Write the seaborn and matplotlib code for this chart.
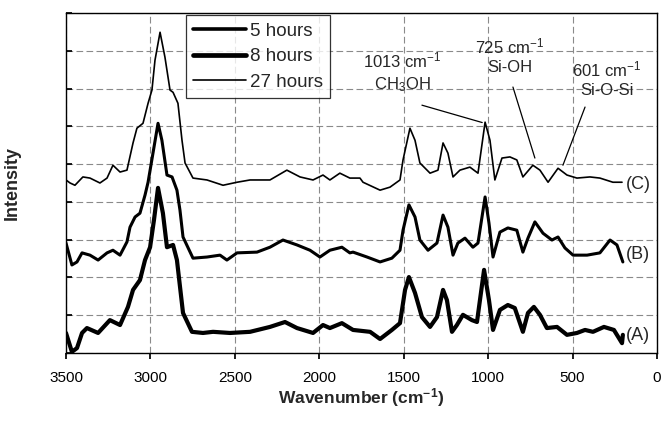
import matplotlib
matplotlib.use("Agg")
import matplotlib.pyplot as plt
import seaborn as sns
import pandas as pd

# Raman spectra of the gel at three ageing times (offset traces, arbitrary units)
wn_c = [3500, 3476, 3447, 3400, 3358, 3299, 3257, 3222, 3180, 3139, 3103, 3080, 3044, 3014,
        2991, 2973, 2943, 2914, 2884, 2866, 2837, 2813, 2795, 2748, 2665, 2570, 2487, 2410,
        2292, 2192, 2114, 2037, 1978, 1937, 1878, 1819, 1759, 1741, 1640, 1581, 1522, 1504,
        1463, 1433, 1404, 1344, 1297, 1267, 1238, 1208, 1167, 1108, 1060, 1018, 989, 960,
        918, 871, 830, 794, 735, 693, 645, 586, 533, 474, 397, 338, 261, 207]
int_c = [4.58, 4.50, 4.44, 4.66, 4.63, 4.50, 4.63, 4.97, 4.79, 4.84, 5.56, 5.95, 6.08, 6.61,
         6.96, 7.75, 8.49, 7.83, 6.96, 6.90, 6.61, 5.63, 5.03, 4.63, 4.58, 4.44, 4.52, 4.58,
         4.58, 4.84, 4.66, 4.58, 4.71, 4.58, 4.76, 4.63, 4.63, 4.52, 4.31, 4.39, 4.58, 5.11,
         5.95, 5.63, 5.03, 4.76, 4.84, 5.56, 5.29, 4.66, 4.84, 4.92, 4.76, 6.11, 5.63, 4.58,
         5.16, 5.19, 5.11, 4.66, 4.97, 4.84, 4.52, 4.89, 4.71, 4.63, 4.66, 4.63, 4.52, 4.52]

wn_b = [3500, 3465, 3435, 3405, 3358, 3310, 3257, 3222, 3180, 3139, 3121, 3091, 3062, 3032,
        3014, 2955, 2932, 2902, 2872, 2843, 2825, 2807, 2748, 2665, 2588, 2547, 2487, 2369,
        2292, 2215, 2132, 2055, 1996, 1937, 1866, 1819, 1800, 1717, 1640, 1570, 1522, 1504,
        1469, 1433, 1404, 1356, 1303, 1267, 1238, 1208, 1179, 1137, 1090, 1060, 1018, 995,
        971, 930, 883, 830, 794, 764, 723, 675, 622, 586, 545, 497, 414, 338, 278, 237, 202]
int_b = [2.91, 2.33, 2.41, 2.65, 2.59, 2.46, 2.65, 2.72, 2.59, 2.94, 3.33, 3.60, 3.70, 4.18,
         4.52, 6.08, 5.63, 4.71, 4.66, 4.31, 3.78, 3.07, 2.51, 2.54, 2.59, 2.46, 2.65, 2.67,
         2.80, 2.99, 2.86, 2.72, 2.54, 2.72, 2.80, 2.65, 2.67, 2.54, 2.41, 2.51, 2.72, 3.25,
         3.92, 3.60, 2.99, 2.72, 2.91, 3.65, 3.33, 2.59, 2.91, 3.04, 2.80, 2.91, 4.13, 3.44,
         2.54, 3.20, 3.31, 3.25, 2.67, 3.04, 3.47, 3.17, 2.99, 3.07, 2.78, 2.59, 2.59, 2.65,
         2.99, 2.86, 2.41]

wn_a = [3500, 3465, 3435, 3405, 3376, 3310, 3240, 3180, 3133, 3103, 3062, 3032, 3002, 2979,
        2955, 2926, 2902, 2866, 2843, 2807, 2754, 2689, 2629, 2529, 2410, 2292, 2203, 2132,
        2037, 1978, 1937, 1866, 1800, 1699, 1640, 1570, 1522, 1492, 1469, 1433, 1392, 1344,
        1303, 1267, 1244, 1214, 1185, 1149, 1096, 1066, 1024, 995, 971, 930, 883, 842, 794,
        764, 729, 693, 652, 592, 533, 474, 426, 379, 314, 255, 207, 202]
int_a = [0.53, 0.03, 0.13, 0.53, 0.66, 0.53, 0.87, 0.74, 1.22, 1.67, 1.93, 2.46, 2.80, 3.52,
         4.37, 3.70, 2.80, 2.86, 2.46, 1.06, 0.56, 0.53, 0.56, 0.53, 0.56, 0.69, 0.82, 0.66,
         0.53, 0.74, 0.66, 0.79, 0.61, 0.56, 0.37, 0.61, 0.79, 1.67, 2.01, 1.59, 0.95, 0.69,
         0.95, 1.67, 1.40, 0.56, 0.74, 1.01, 0.87, 0.82, 2.20, 1.40, 0.61, 1.14, 1.27, 1.19,
         0.56, 1.06, 1.22, 1.01, 0.66, 0.69, 0.48, 0.53, 0.61, 0.56, 0.69, 0.61, 0.26, 0.48]

sns.set_theme(style="ticks")
plt.rcParams["font.family"] = ["Liberation Sans", "DejaVu Sans"]
plt.rcParams["mathtext.default"] = "regular"

fig = plt.figure(figsize=(6.62, 4.26), dpi=100)
ax = fig.add_axes([0.0997, 0.1714, 0.8927, 0.7981])

traces = [
    ("5 hours", wn_b, int_b, 2.2),
    ("8 hours", wn_a, int_a, 3.0),
    ("27 hours", wn_c, int_c, 1.2),
]
for label, wn, inten, lw in traces:
    df = pd.DataFrame({"Wavenumber": wn, "Intensity": inten})
    sns.lineplot(data=df, x="Wavenumber", y="Intensity", ax=ax, color="black",
                 linewidth=lw, sort=False, estimator=None, label=label)

ax.set_xlim(3500, 0)
ax.set_ylim(0, 9)
ax.set_xticks(range(0, 3501, 500))
ax.set_yticks(range(0, 10))
ax.set_yticklabels([])
ax.grid(True, linestyle=(0, (6, 3)), color="#8a8a8a", linewidth=0.8)
for s in ax.spines.values():
    s.set_visible(True)
    s.set_color("black")
    s.set_linewidth(1.0)
ax.tick_params(axis="x", direction="out", length=4, pad=9, labelsize=11, colors="black")
ax.tick_params(axis="y", direction="in", length=4, colors="black")

ax.set_xlabel("Wavenumber (cm$^{-1}$)", fontsize=12.5, fontweight="bold", labelpad=1)
ax.set_ylabel("Intensity", fontsize=13, fontweight="bold")
ax.yaxis.set_label_coords(-0.076, 0.5)

# trace labels
for txt, y in [("(C)", 4.47), ("(B)", 2.62), ("(A)", 0.45)]:
    ax.text(183, y, txt, fontsize=13, ha="left", va="center")

# band assignments
txt_kw = dict(ha="center", va="center", fontsize=12, linespacing=1.3)
line_kw = dict(arrowstyle="-", color="black", lw=0.9, shrinkA=0, shrinkB=0)
ax.text(1510, 7.43, "1013 cm$^{-1}$\nCH$_3$OH", **txt_kw)
ax.annotate("", xy=(1035, 6.10), xytext=(1392, 6.56), arrowprops=line_kw)
ax.text(871, 7.88, "725 cm$^{-1}$\nSi-OH", **txt_kw)
ax.annotate("", xy=(723, 5.16), xytext=(853, 7.04), arrowprops=line_kw)
ax.text(296, 7.25, "601 cm$^{-1}$\nSi-O-Si", **txt_kw)
ax.annotate("", xy=(557, 4.97), xytext=(426, 6.51), arrowprops=line_kw)

leg = ax.legend(loc="upper left", bbox_to_anchor=(0.203, 0.994), borderaxespad=0,
                frameon=True, fancybox=False, fontsize=13.5, handlelength=2.8,
                handletextpad=0.2, labelspacing=0.45, borderpad=0.4)
leg.get_frame().set_edgecolor("black")
leg.get_frame().set_linewidth(0.9)
for h, lw in zip(leg.get_lines(), [2.6, 3.4, 1.2]):
    h.set_linewidth(lw)

fig.savefig("out.png", dpi=100)
